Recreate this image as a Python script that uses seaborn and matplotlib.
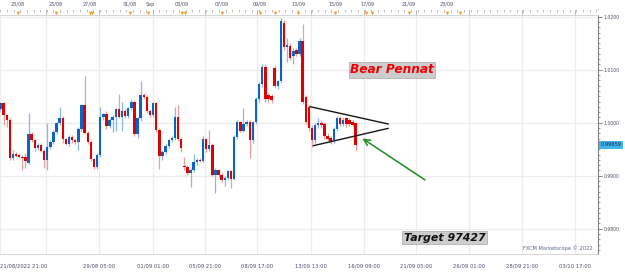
import numpy as np
import pandas as pd
import matplotlib
matplotlib.use("Agg")
import matplotlib.pyplot as plt
import matplotlib.transforms as mtransforms
from matplotlib.ticker import MultipleLocator
import seaborn as sns

# ---------------- data (EUR/USD 4h candles) ----------------
open_ = [1.0025, 1.0038, 1.0014, 1.0006, 0.9933, 0.9941, 0.9940, 0.9936, 0.9935, 0.9924,
         0.9978, 0.9967, 0.9952, 0.9958, 0.9947, 0.9929, 0.9954, 0.9964, 0.9983, 0.9999,
         1.0008, 0.9969, 0.9960, 0.9973, 0.9967, 0.9964, 0.9989, 1.0033, 0.9980, 0.9964,
         0.9931, 0.9917, 0.9939, 1.0010, 1.0016, 0.9993, 1.0006, 1.0010, 1.0025, 1.0011,
         1.0023, 1.0012, 1.0028, 1.0039, 0.9979, 1.0008, 1.0053, 1.0049, 1.0022, 1.0014,
         1.0037, 0.9987, 0.9937, 0.9945, 0.9956, 0.9967, 0.9972, 1.0010, 0.9969, 0.9919,
         0.9916, 0.9905, 0.9911, 0.9925, 0.9930, 0.9928, 0.9969, 0.9950, 0.9958, 0.9902,
         0.9910, 0.9902, 0.9892, 0.9896, 0.9908, 0.9894, 0.9973, 1.0001, 0.9985, 0.9998,
         1.0001, 0.9968, 1.0001, 1.0045, 1.0073, 1.0106, 1.0052, 1.0050, 1.0104, 1.0070,
         1.0078, 1.0189, 1.0142, 1.0145, 1.0126, 1.0137, 1.0130, 1.0154, 1.0048, 1.0030,
         0.9990, 0.9968, 0.9995, 0.9999, 0.9998, 0.9975, 0.9972, 0.9968, 0.9989, 1.0008,
         0.9998, 1.0008, 1.0005, 1.0002, 0.9999]
high = [1.0040, 1.0040, 1.0016, 1.0008, 0.9949, 0.9944, 0.9943, 0.9939, 0.9942, 1.0018,
        0.9982, 0.9970, 0.9961, 0.9962, 0.9950, 0.9999, 0.9968, 0.9986, 1.0001, 1.0030,
        1.0012, 0.9972, 0.9976, 0.9976, 0.9969, 0.9992, 1.0036, 1.0089, 0.9984, 0.9967,
        0.9934, 0.9942, 1.0030, 1.0019, 1.0023, 1.0009, 1.0014, 1.0028, 1.0055, 1.0039,
        1.0026, 1.0030, 1.0044, 1.0042, 1.0011, 1.0078, 1.0056, 1.0053, 1.0026, 1.0040,
        1.0040, 0.9990, 0.9948, 0.9960, 0.9970, 0.9975, 1.0030, 1.0033, 0.9972, 0.9935,
        0.9920, 0.9914, 0.9941, 0.9933, 0.9933, 0.9975, 0.9972, 0.9986, 0.9961, 0.9914,
        0.9913, 0.9905, 0.9899, 0.9911, 0.9911, 0.9977, 1.0005, 1.0004, 1.0028, 1.0006,
        1.0005, 1.0004, 1.0048, 1.0076, 1.0110, 1.0110, 1.0056, 1.0054, 1.0108, 1.0080,
        1.0198, 1.0194, 1.0160, 1.0150, 1.0140, 1.0140, 1.0160, 1.0186, 1.0052, 1.0035,
        0.9995, 1.0000, 1.0008, 1.0006, 1.0002, 0.9980, 0.9975, 0.9992, 1.0012, 1.0012,
        1.0010, 1.0010, 1.0008, 1.0005, 1.0002]
low = [1.0022, 0.9995, 0.9992, 0.9930, 0.9930, 0.9935, 0.9933, 0.9911, 0.9914, 0.9922,
       0.9963, 0.9946, 0.9948, 0.9944, 0.9915, 0.9911, 0.9950, 0.9960, 0.9978, 0.9995,
       0.9962, 0.9957, 0.9956, 0.9962, 0.9960, 0.9949, 0.9985, 0.9978, 0.9960, 0.9928,
       0.9913, 0.9913, 0.9935, 1.0006, 0.9988, 0.9990, 0.9983, 0.9985, 1.0008, 0.9985,
       1.0008, 1.0009, 1.0024, 0.9975, 0.9972, 1.0004, 1.0045, 1.0018, 1.0010, 1.0010,
       0.9983, 0.9912, 0.9930, 0.9941, 0.9952, 0.9963, 0.9968, 0.9965, 0.9945, 0.9911,
       0.9902, 0.9879, 0.9907, 0.9920, 0.9925, 0.9925, 0.9945, 0.9946, 0.9900, 0.9868,
       0.9898, 0.9889, 0.9880, 0.9892, 0.9877, 0.9891, 0.9970, 0.9982, 0.9983, 0.9994,
       0.9934, 0.9962, 0.9998, 1.0040, 1.0068, 1.0040, 1.0040, 1.0038, 1.0066, 1.0064,
       1.0075, 1.0138, 1.0115, 1.0118, 1.0110, 1.0125, 1.0126, 1.0035, 0.9998, 0.9985,
       0.9955, 0.9962, 0.9990, 0.9990, 0.9970, 0.9965, 0.9960, 0.9962, 0.9985, 0.9994,
       0.9994, 0.9992, 0.9994, 0.9992, 0.9946]
close = [1.0038, 1.0014, 1.0006, 0.9933, 0.9941, 0.9938, 0.9936, 0.9933, 0.9927, 0.9978,
         0.9967, 0.9952, 0.9958, 0.9947, 0.9929, 0.9954, 0.9964, 0.9983, 0.9999, 1.0008,
         0.9969, 0.9960, 0.9973, 0.9967, 0.9964, 0.9989, 1.0033, 0.9980, 0.9964, 0.9931,
         0.9917, 0.9939, 1.0010, 1.0016, 0.9993, 1.0006, 1.0010, 1.0025, 1.0011, 1.0023,
         1.0012, 1.0028, 1.0039, 0.9979, 1.0008, 1.0053, 1.0049, 1.0022, 1.0014, 1.0037,
         0.9987, 0.9937, 0.9945, 0.9956, 0.9967, 0.9972, 1.0010, 0.9969, 0.9952, 0.9916,
         0.9905, 0.9911, 0.9925, 0.9930, 0.9928, 0.9969, 0.9950, 0.9958, 0.9902, 0.9910,
         0.9902, 0.9892, 0.9896, 0.9908, 0.9894, 0.9973, 1.0001, 0.9985, 0.9998, 1.0001,
         0.9968, 1.0001, 1.0045, 1.0073, 1.0106, 1.0045, 1.0044, 1.0043, 1.0070, 1.0078,
         1.0192, 1.0142, 1.0146, 1.0122, 1.0135, 1.0130, 1.0154, 1.0039, 1.0002, 0.9990,
         0.9968, 0.9995, 0.9999, 0.9995, 0.9975, 0.9970, 0.9965, 0.9989, 1.0008, 0.9998,
         1.0006, 0.9997, 0.9998, 0.9995, 0.9958]

bottom_tick_pos = [0, 14.6, 31.7, 48.9, 65.7, 82.4, 99.6, 116.7, 133.4, 150.4, 167.3, 184.4]
bottom_tick_labels = ["21/08/2022 21:00", "", "29/08 05:00", "01/09 01:00", "05/09 21:00",
                      "08/09 17:00", "13/09 13:00", "16/09 09:00", "21/09 05:00",
                      "26/09 01:00", "28/09 21:00", "03/10 17:00"]
top_label_pos = [5.6, 17.8, 28.7, 41.6, 48.0, 58.3, 71.1, 83.3, 95.5, 107.4, 117.7, 131.1, 143.3]
top_labels = ["23/08", "25/08", "27/08", "31/08", "Sep", "03/09", "07/09", "09/09",
              "13/09", "15/09", "17/09", "21/09", "23/09"]
event_pos = [5.6, 17.8, 28.7, 29.4, 41.6, 47.4, 58.3, 59.2, 71.1, 83.3, 88.1, 95.5,
             107.4, 117.3, 119.3, 131.1, 143.3, 147.5]
y_ticks = [0.98, 0.99, 1.00, 1.01, 1.02]

pennant_upper_x = [99.4, 124.5]
pennant_upper_y = [1.00302, 0.99975]
pennant_lower_x = [100.4, 124.5]
pennant_lower_y = [0.99566, 0.99894]
arrow_tail = (136.3, 0.98919)
arrow_head = (116.2, 0.99702)
pattern_label = "Bear Pennat"
pattern_label_pos = (125.7, 1.0100)
target_label = "Target 97427"
target_label_pos = (142.5, 0.97834)
last_price_label = "0.99659"
credit = "FXCM Marketscope © 2022"

# ---------------- style ----------------
sns.set_style("white")
plt.rcParams['font.family'] = ['DejaVu Sans']
label_color = '#4a4f6a'

fig = plt.figure(figsize=(6.25, 2.72), dpi=100)
ax = fig.add_axes([0, 18 / 272, 598 / 625, 239 / 272])

df = pd.DataFrame(dict(o=open_, h=high, l=low, c=close))
df['i'] = np.arange(len(df))
up = df['c'] >= df['o']
dn = ~up

ax.vlines(df['i'][up], df['l'][up], df['h'][up], color='#8db6ea', lw=0.9, zorder=2)
ax.vlines(df['i'][dn], df['l'][dn], df['h'][dn], color='#f19c9c', lw=0.9, zorder=2)
ax.bar(df['i'][up], np.maximum((df['c'] - df['o'])[up], 0.00012), bottom=df['o'][up],
       width=0.78, color='#0b63c6', linewidth=0, zorder=3)
ax.bar(df['i'][dn], np.maximum((df['o'] - df['c'])[dn], 0.00012), bottom=df['c'][dn],
       width=0.78, color='#e00000', linewidth=0, zorder=3)

# pennant lines
for xs, ys in [(pennant_upper_x, pennant_upper_y), (pennant_lower_x, pennant_lower_y)]:
    sns.lineplot(x=xs, y=ys, ax=ax, color='#151515', lw=1.0, legend=False, zorder=4)

# limits
ax.set_xlim(-0.16, 191.8)
ax.set_ylim(0.97523, 1.02032)

# grid & ticks
ax.set_xticks(bottom_tick_pos)
ax.set_xticklabels(bottom_tick_labels)
ax.get_xticklabels()[0].set_ha('left')
ax.xaxis.set_minor_locator(MultipleLocator(17 / 8))
ax.yaxis.tick_right()
ax.set_yticks(y_ticks)
ax.set_yticklabels([f"{v:.4f}" for v in y_ticks])
ax.yaxis.set_minor_locator(MultipleLocator(0.001))
ax.grid(True, which='major', color='#ececec', lw=0.9, zorder=0)
ax.set_axisbelow(True)

ax.tick_params(axis='x', which='major', direction='out', length=4.3, width=0.6,
               color='#a0a0a0', labelsize=3.8, labelcolor=label_color, pad=2.2)
ax.tick_params(axis='x', which='minor', direction='out', length=2, width=0.5, color='#a0a0a0')
ax.tick_params(axis='y', which='major', direction='out', length=3, width=0.6,
               color='#707070', labelsize=3.3, labelcolor=label_color, pad=1.2)
ax.tick_params(axis='y', which='minor', direction='out', length=1.6, width=0.5, color='#707070')

ax.spines['left'].set_visible(False)
ax.spines['top'].set_color('#d0d0d0')
ax.spines['top'].set_linewidth(0.6)
ax.spines['bottom'].set_color('#d0d0d0')
ax.spines['bottom'].set_linewidth(0.6)
ax.spines['right'].set_color('#808080')
ax.spines['right'].set_linewidth(0.8)

# top ruler
top_loc = 1 + 5.5 / 239
sec = ax.secondary_xaxis(top_loc)
sec.set_xticks(bottom_tick_pos[1:])
sec.set_xticklabels([])
sec.xaxis.set_minor_locator(MultipleLocator(17 / 8))
sec.tick_params(axis='x', which='major', direction='in', length=4, width=0.5, color='#a0a0a0')
sec.tick_params(axis='x', which='minor', direction='in', length=2, width=0.5, color='#a0a0a0')
sec.spines['top'].set_color('#b0b0b0')
sec.spines['top'].set_linewidth(0.6)

sec2 = ax.secondary_xaxis(top_loc)
sec2.set_xticks(top_label_pos)
sec2.set_xticklabels(top_labels)
sec2.tick_params(axis='x', which='major', length=0, labelsize=3.5, labelcolor=label_color, pad=1.8)
sec2.spines['top'].set_visible(False)

# event markers on the top ruler
blend = mtransforms.blended_transform_factory(ax.transData, ax.transAxes)
ax.scatter(event_pos, [1 + 2.2 / 239] * len(event_pos), transform=blend, marker='v', s=7,
           color='#f4a12c', linewidths=0, clip_on=False, zorder=6)

# annotations
ax.text(*pattern_label_pos, pattern_label, color='#ee0000', fontsize=8.7, fontweight='bold',
        fontstyle='italic', ha='center', va='center', zorder=6,
        bbox=dict(boxstyle='square,pad=0.12', fc='#cdcdcd', ec='#a8a8a8', lw=0.5))
ax.text(*target_label_pos, target_label, color='#111111', fontsize=7.9, fontweight='bold',
        fontstyle='italic', ha='center', va='center', zorder=6,
        bbox=dict(boxstyle='square,pad=0.12', fc='#cdcdcd', ec='#a8a8a8', lw=0.5))
ax.annotate('', xy=arrow_head, xytext=arrow_tail, zorder=6,
            arrowprops=dict(arrowstyle='->', color='#1e8c1e', lw=1.1, mutation_scale=11,
                            shrinkA=0, shrinkB=0))

blend_y = mtransforms.blended_transform_factory(ax.transAxes, ax.transData)
ax.text(1.004, close[-1], last_price_label, transform=blend_y, fontsize=3.6, color='#13204a',
        ha='left', va='center', zorder=7, clip_on=False,
        bbox=dict(boxstyle='square,pad=0.35', fc='#3fb6ee', ec='none'))
ax.text(0.991, 0.012, credit, transform=ax.transAxes, ha='right', va='bottom', fontsize=3.7,
        color='#5a6a8a', zorder=6)

fig.savefig('out.png', dpi=100)
